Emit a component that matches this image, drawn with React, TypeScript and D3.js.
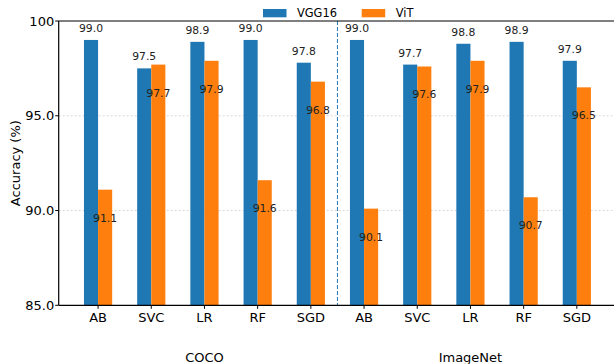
import React from "react";
import * as d3 from "d3";

// accuracy per classifier, two datasets, two backbones
const classifiers = ["AB", "SVC", "LR", "RF", "SGD"];
const datasets = ["COCO", "ImageNet"];
const vggValues = [99.0, 97.5, 98.9, 99.0, 97.8, 99.0, 97.7, 98.8, 98.9, 97.9];
const vitValues = [91.1, 97.7, 97.9, 91.6, 96.8, 90.1, 97.6, 97.9, 90.7, 96.5];
const yTicks = [85, 90, 95, 100];
const seriesNames = ["VGG16", "ViT"];

const W = 614;
const H = 364;
const FONT = "DejaVu Sans, sans-serif";
const BLUE = "#1f77b4";
const ORANGE = "#ff7f0e";

const App = () => {
  const left = 58.7;
  const top = 21;
  const bottom = 305.3;

  const x = d3.scaleLinear().domain([-0.74, 9.74]).range([left, 616.2]);
  const y = d3.scaleLinear().domain([85, 100]).range([bottom, top]);
  const barW = (x(1) - x(0)) * 0.265;

  const labels = datasets.flatMap(() => classifiers);
  const fmt = (v: number) => (v === 100 ? "100" : v.toFixed(1));

  return (
    <svg
      width={W}
      height={H}
      style={{ position: "absolute", left: 0, top: 0, fontFamily: FONT }}
    >
      <rect width={W} height={H} fill="#fff" />

      {/* grid */}
      {yTicks.slice(1, 3).map((t) => (
        <line
          key={"g" + t}
          x1={left}
          x2={W}
          y1={y(t)}
          y2={y(t)}
          stroke="#d9d9d9"
          strokeWidth={1}
          strokeDasharray="2,2"
        />
      ))}

      {/* bars */}
      {vggValues.map((v, i) => (
        <rect
          key={"b" + i}
          x={x(i) - barW}
          y={y(v)}
          width={barW}
          height={bottom - y(v)}
          fill={BLUE}
        />
      ))}
      {vitValues.map((v, i) => (
        <rect
          key={"o" + i}
          x={x(i)}
          y={y(v)}
          width={barW}
          height={bottom - y(v)}
          fill={ORANGE}
        />
      ))}

      {/* value labels */}
      {vggValues.map((v, i) => (
        <text
          key={"tb" + i}
          x={x(i) - barW / 2}
          y={y(v) - 8}
          fontSize={10.8}
          textAnchor="middle"
          fill="#222"
        >
          {v.toFixed(1)}
        </text>
      ))}
      {vitValues.map((v, i) => (
        <text
          key={"to" + i}
          x={x(i) + barW / 2}
          y={y(v) + 32}
          fontSize={10.8}
          textAnchor="middle"
          fill="#222"
        >
          {v.toFixed(1)}
        </text>
      ))}

      {/* dataset separator */}
      <line
        x1={x(4.5)}
        x2={x(4.5)}
        y1={top}
        y2={bottom}
        stroke={BLUE}
        strokeWidth={1}
        strokeDasharray="4,2"
      />

      {/* spines */}
      <line x1={left} x2={left} y1={top} y2={bottom} stroke="#000" strokeWidth={1.2} />
      <line x1={left} x2={W} y1={top} y2={top} stroke="#000" strokeWidth={1.2} />
      <line x1={left} x2={W} y1={bottom} y2={bottom} stroke="#000" strokeWidth={1.2} />

      {/* y axis */}
      {yTicks.map((t) => (
        <g key={"y" + t}>
          <line x1={left - 3.5} x2={left} y1={y(t)} y2={y(t)} stroke="#000" />
          <text
            x={left - 4.5}
            y={y(t) + 4.6}
            fontSize={13}
            textAnchor="end"
            fill="#000"
          >
            {fmt(t)}
          </text>
        </g>
      ))}
      <text
        transform={`translate(20,${(top + bottom) / 2}) rotate(-90)`}
        fontSize={13}
        textAnchor="middle"
        fill="#000"
      >
        Accuracy (%)
      </text>

      {/* x axis */}
      {labels.map((l, i) => (
        <g key={"x" + i}>
          <line x1={x(i)} x2={x(i)} y1={bottom} y2={bottom + 3.5} stroke="#000" />
          <text x={x(i)} y={321.5} fontSize={13} textAnchor="middle" fill="#000">
            {l}
          </text>
        </g>
      ))}
      {datasets.map((d, k) => (
        <text
          key={d}
          x={x(k * 5 + 2)}
          y={361.5}
          fontSize={13}
          textAnchor="middle"
          fill="#000"
        >
          {d}
        </text>
      ))}

      {/* legend */}
      {seriesNames.map((s, k) => {
        const lx = k === 0 ? 263 : 361.7;
        return (
          <g key={s}>
            <rect x={lx} y={9} width={23.5} height={8.3} fill={k === 0 ? BLUE : ORANGE} />
            <text x={lx + 34} y={17.3} fontSize={11.4} fill="#000">
              {s}
            </text>
          </g>
        );
      })}
    </svg>
  );
};

export default App;
